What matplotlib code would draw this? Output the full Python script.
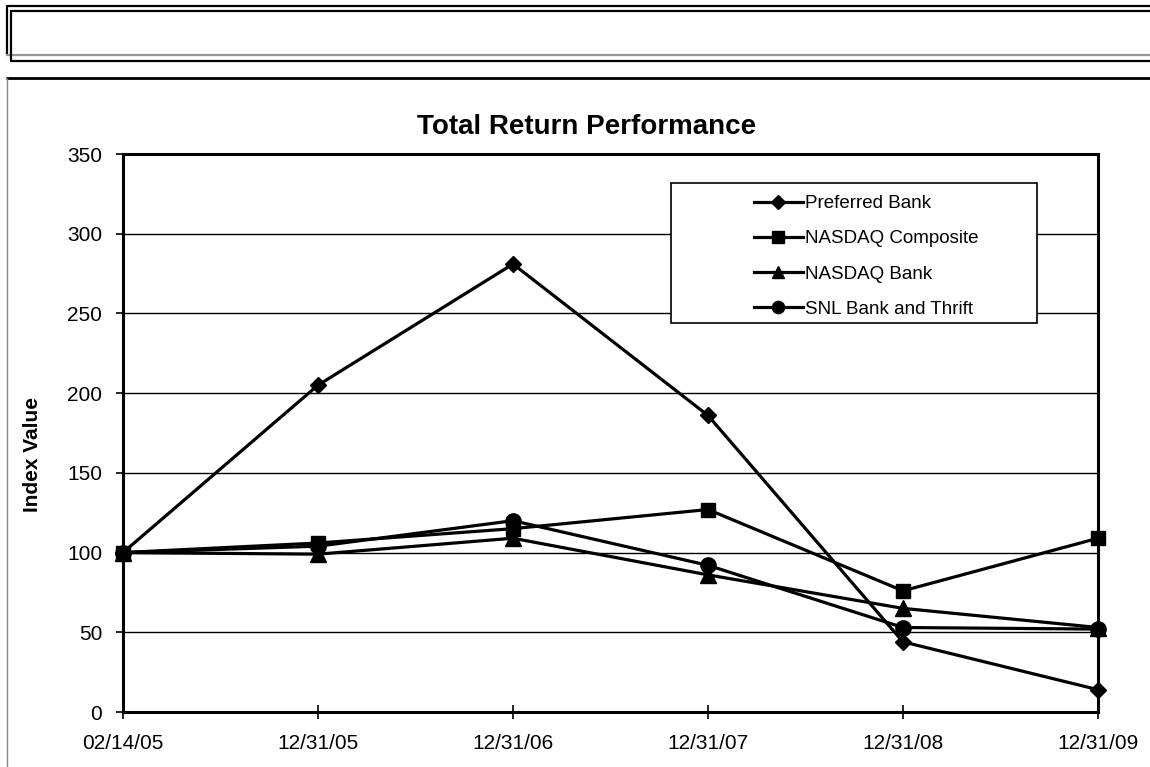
import matplotlib
matplotlib.use("Agg")
import matplotlib.pyplot as plt
from matplotlib.lines import Line2D
from matplotlib.patches import Rectangle

plt.rcParams['font.family'] = ['Liberation Sans', 'DejaVu Sans']

dates = ["02/14/05", "12/31/05", "12/31/06", "12/31/07", "12/31/08", "12/31/09"]
preferred_bank = [100, 205, 281, 186, 44, 14]
nasdaq_composite = [100, 106, 115, 127, 76, 109]
nasdaq_bank = [100, 99, 109, 86, 65, 53]
snl_bank_thrift = [100, 104, 120, 92, 53, 52]

series = [
    ("Preferred Bank", preferred_bank, "D", 8.5),
    ("NASDAQ Composite", nasdaq_composite, "s", 10.5),
    ("NASDAQ Bank", nasdaq_bank, "^", 11),
    ("SNL Bank and Thrift", snl_bank_thrift, "o", 11),
]

W, H = 1150, 767
fig = plt.figure(figsize=(W / 100, H / 100), dpi=100)

def fx(x):
    return x / W

def fy(y):
    return 1 - y / H

def hline(y, x0, x1, color="black", lw=1.5):
    fig.add_artist(Line2D([fx(x0), fx(x1)], [fy(y), fy(y)], color=color, lw=lw,
                          transform=fig.transFigure, solid_capstyle="butt"))

def vline(x, y0, y1, color="black", lw=1.5):
    fig.add_artist(Line2D([fx(x), fx(x)], [fy(y0), fy(y1)], color=color, lw=lw,
                          transform=fig.transFigure, solid_capstyle="butt"))

hline(5.5, 6, W, lw=1.6)
vline(6.5, 5, 55, lw=1.6)
hline(55, 6, W, color="#999999", lw=1.6)
hline(10.5, 10, W, lw=1.6)
vline(10.5, 10, 61, lw=1.6)
hline(61, 10, W, lw=1.6)
hline(78, 6, W, lw=2)
vline(6.5, 78, H, color="#888888", lw=1.0)

left, right, top, bottom = 123, 1098, 154, 712
ax = fig.add_axes([fx(left), fy(bottom), fx(right - left), fy(top) - fy(bottom)])

x = list(range(len(dates)))
for name, vals, mk, ms in series:
    ax.plot(x, vals, color="black", lw=2.3, marker=mk, markersize=ms,
            markerfacecolor="black", markeredgecolor="black", label=name,
            clip_on=False, zorder=3)

ax.set_xlim(0, len(dates) - 1)
ax.set_ylim(0, 350)
ax.set_yticks(range(0, 351, 50))
ax.set_xticks(x)
ax.set_xticklabels(dates)
ax.grid(axis="y", color="black", lw=1.0)
ax.set_axisbelow(True)
for s in ax.spines.values():
    s.set_linewidth(2.2)
ax.tick_params(axis="y", direction="out", length=5, width=1.2, labelsize=15, pad=10)
ax.tick_params(axis="x", direction="inout", length=10, width=1.2, labelsize=15, pad=11)

fig.text(fx(587), fy(127), "Total Return Performance", ha="center", va="center",
         fontsize=20, fontweight="bold")
fig.text(fx(32), fy(455), "Index Value", ha="center", va="center", rotation=90,
         fontsize=15, fontweight="bold")

# legend box
fig.add_artist(Rectangle((fx(671), fy(323)), fx(1037 - 671), fy(183) - fy(323),
                         transform=fig.transFigure, fill=True, facecolor="white",
                         edgecolor="black", lw=1.2, zorder=5))
leg = fig.legend(loc="upper left", bbox_to_anchor=(fx(738), fy(179)),
                 frameon=False, fontsize=13.5, handlelength=2.6, handletextpad=0.1,
                 labelspacing=0.97, borderpad=0.35, markerscale=0.8)
leg.set_zorder(6)

fig.savefig("out.png", dpi=100)
